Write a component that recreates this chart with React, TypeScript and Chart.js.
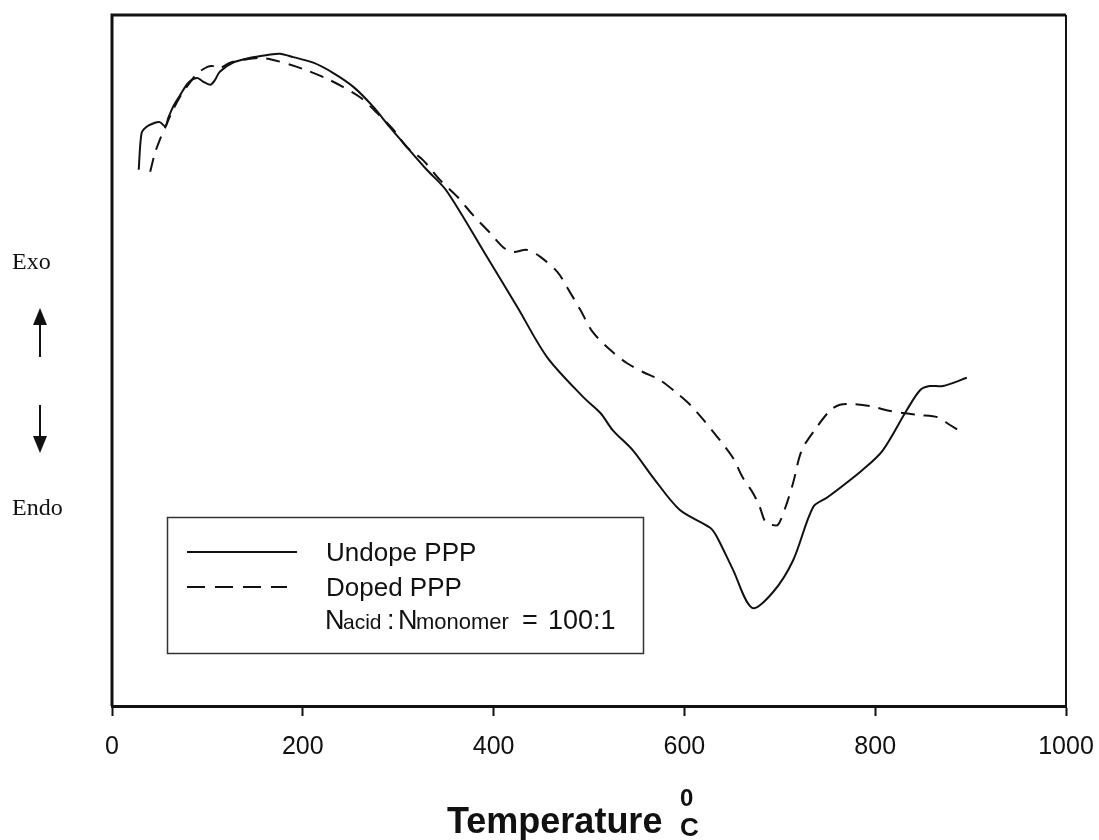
import React, { useEffect, useRef } from "react";
import { Chart, registerables } from "chart.js";

Chart.register(...registerables);

// Temperature (°C) and relative heat-flow signal (arbitrary units, Exo up)
const undopeTemp = [28, 31, 36, 45, 50, 56, 59, 64, 71, 80, 89, 95, 103, 108, 113, 127, 145, 163, 176, 190, 211, 232, 253, 274, 291, 309, 330, 351, 393, 425, 456, 494, 512, 525, 546, 567, 595, 627, 634, 651, 671, 693, 714, 735, 750, 787, 808, 833, 847, 857, 871, 896];
const undopeSignal = [77.6, 82.9, 83.8, 84.4, 84.5, 83.9, 85.1, 86.7, 88.3, 90.2, 90.9, 90.4, 89.9, 90.6, 91.8, 93.1, 93.8, 94.2, 94.4, 93.9, 93.1, 91.6, 89.6, 86.7, 83.8, 80.9, 77.6, 74.5, 65.0, 57.7, 50.5, 44.7, 42.4, 39.9, 37.0, 33.1, 28.4, 25.8, 24.5, 19.7, 14.2, 16.5, 21.1, 28.8, 30.2, 34.2, 37.0, 42.8, 45.7, 46.3, 46.3, 47.5];

const dopedTemp = [40, 45, 50, 56, 63, 71, 82, 90, 100, 106, 111, 124, 137, 155, 169, 187, 204, 225, 242, 260, 278, 295, 309, 326, 344, 362, 378, 396, 410, 420, 435, 449, 467, 477, 491, 504, 525, 540, 557, 574, 592, 606, 620, 637, 651, 661, 672, 679, 685, 692, 698, 706, 714, 723, 739, 753, 763, 777, 795, 812, 829, 847, 865, 878, 892];
const dopedSignal = [77.3, 80.0, 81.9, 83.8, 86.0, 88.1, 90.3, 91.6, 92.5, 92.6, 92.2, 93.1, 93.5, 93.8, 93.5, 92.8, 92.0, 90.8, 89.6, 88.1, 85.8, 83.4, 80.9, 79.0, 76.1, 73.7, 71.1, 68.5, 66.4, 65.7, 66.0, 65.0, 62.8, 60.6, 57.3, 54.1, 51.2, 49.6, 48.3, 47.2, 45.3, 43.6, 41.4, 38.5, 35.9, 33.1, 30.8, 28.8, 26.6, 26.2, 26.2, 28.8, 32.3, 37.0, 40.4, 42.8, 43.6, 43.7, 43.4, 42.8, 42.4, 42.1, 41.8, 40.7, 39.5];

const xTicks = [0, 200, 400, 600, 800, 1000];
const seriesNames = ["Undope PPP", "Doped PPP"];

const INK = "#111";
const SANS = '"Liberation Sans", Arial, sans-serif';
const SERIF = '"Liberation Serif", "Times New Roman", serif';

const decorPlugin = {
  id: "decor",
  afterDraw(chart: any) {
    const ctx = chart.ctx as CanvasRenderingContext2D;
    const a = chart.chartArea;
    ctx.save();
    ctx.strokeStyle = INK;
    ctx.fillStyle = INK;

    // frame (top, left, right)
    ctx.lineWidth = 3;
    ctx.beginPath();
    ctx.moveTo(a.left, a.bottom);
    ctx.lineTo(a.left, a.top);
    ctx.lineTo(a.right, a.top);
    ctx.stroke();
    ctx.lineWidth = 2;
    ctx.beginPath();
    ctx.moveTo(a.right, a.top);
    ctx.lineTo(a.right, a.bottom);
    ctx.stroke();

    // Exo / Endo labels and arrows
    ctx.font = `24px ${SERIF}`;
    ctx.textAlign = "left";
    ctx.textBaseline = "alphabetic";
    ctx.fillText("Exo", 12, 269);
    ctx.fillText("Endo", 12, 515);
    ctx.lineWidth = 2;
    ctx.beginPath();
    ctx.moveTo(40, 357);
    ctx.lineTo(40, 322);
    ctx.moveTo(40, 405);
    ctx.lineTo(40, 438);
    ctx.stroke();
    ctx.beginPath();
    ctx.moveTo(40, 308);
    ctx.lineTo(33, 325);
    ctx.lineTo(47, 325);
    ctx.closePath();
    ctx.fill();
    ctx.beginPath();
    ctx.moveTo(40, 453);
    ctx.lineTo(33, 436);
    ctx.lineTo(47, 436);
    ctx.closePath();
    ctx.fill();

    // axis title
    ctx.font = `bold 36px ${SANS}`;
    ctx.fillText("Temperature", 447, 833);
    ctx.font = `bold 24px ${SANS}`;
    ctx.fillText("0", 680, 806);
    ctx.font = `bold 26px ${SANS}`;
    ctx.fillText("C", 680, 836);

    // legend box
    ctx.lineWidth = 1.5;
    ctx.strokeStyle = "#333";
    ctx.strokeRect(167.5, 517.5, 476, 136);
    ctx.strokeStyle = INK;
    ctx.lineWidth = 2;
    ctx.beginPath();
    ctx.moveTo(187, 552);
    ctx.lineTo(297, 552);
    ctx.stroke();
    ctx.setLineDash([18, 10]);
    ctx.beginPath();
    ctx.moveTo(187, 587);
    ctx.lineTo(287, 587);
    ctx.stroke();
    ctx.setLineDash([]);

    ctx.font = `26px ${SANS}`;
    ctx.fillText(seriesNames[0], 326, 561);
    ctx.fillText(seriesNames[1], 326, 596);
    // Nacid : Nmonomer = 100:1
    const base = 629;
    ctx.font = `27px ${SANS}`;
    ctx.fillText("N", 325, base);
    ctx.font = `21px ${SANS}`;
    ctx.fillText("acid", 343, base);
    ctx.font = `27px ${SANS}`;
    ctx.fillText(":", 387, base);
    ctx.fillText("N", 398, base);
    ctx.font = `22px ${SANS}`;
    ctx.fillText("monomer", 416, base);
    ctx.font = `27px ${SANS}`;
    ctx.fillText("=", 522, base);
    ctx.fillText("100:1", 548, base);
    ctx.restore();
  },
};

export default function App() {
  const ref = useRef<HTMLCanvasElement | null>(null);

  useEffect(() => {
    if (!ref.current) return;
    const chart = new Chart(ref.current, {
      type: "line",
      data: {
        datasets: [
          {
            label: seriesNames[0],
            data: undopeTemp.map((t, i) => ({ x: t, y: undopeSignal[i] })),
            borderColor: INK,
            borderWidth: 2,
            pointRadius: 0,
            tension: 0.3,
            fill: false,
          },
          {
            label: seriesNames[1],
            data: dopedTemp.map((t, i) => ({ x: t, y: dopedSignal[i] })),
            borderColor: INK,
            borderWidth: 2,
            borderDash: [14, 9],
            pointRadius: 0,
            tension: 0.3,
            fill: false,
          },
        ],
      },
      options: {
        responsive: false,
        animation: false,
        layout: { padding: { left: 112, right: 33, top: 15, bottom: 0 } },
        plugins: { legend: { display: false }, tooltip: { enabled: false } },
        scales: {
          x: {
            type: "linear",
            min: 0,
            max: 1000,
            afterBuildTicks: (scale: any) => {
              scale.ticks = xTicks.map((v) => ({ value: v }));
            },
            afterFit: (scale: any) => {
              scale.height = 134;
              scale.paddingLeft = 0;
              scale.paddingRight = 0;
            },
            ticks: {
              color: INK,
              padding: 16,
              maxRotation: 0,
              font: { family: SANS, size: 25 },
              callback: (v: any) => String(v),
            },
            grid: {
              drawOnChartArea: false,
              drawTicks: true,
              tickLength: 10,
              tickWidth: 2,
              tickColor: INK,
            },
            border: { display: true, color: INK, width: 3 },
          },
          y: {
            type: "linear",
            display: false,
            min: 0,
            max: 100,
          },
        },
      },
      plugins: [decorPlugin],
    });
    return () => chart.destroy();
  }, []);

  return (
    <div style={{ position: "absolute", left: 0, top: 0, width: 1099, height: 840, background: "#fff" }}>
      <canvas ref={ref} width={1099} height={840} style={{ display: "block" }} />
    </div>
  );
}
